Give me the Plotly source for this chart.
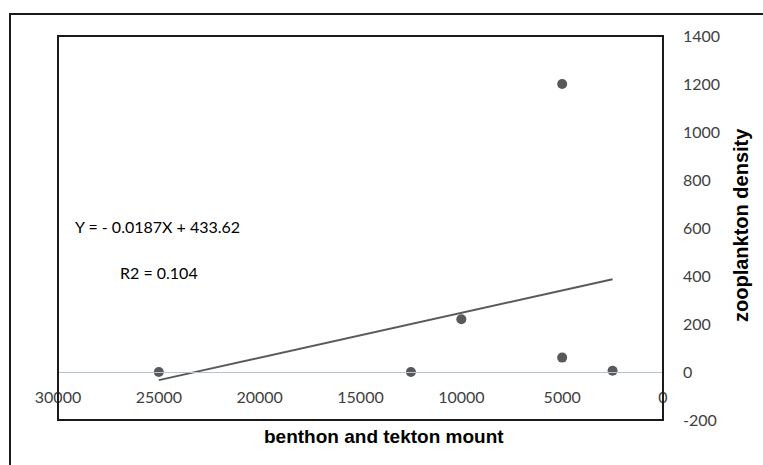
import plotly.graph_objects as go

# Data
x_vals = [25000, 12500, 10000, 5000, 5000, 2500]
y_vals = [0, 0, 220, 1200, 60, 5]
slope = -0.0187
intercept = 433.62
trend_x = [25000, 2500]
trend_y = [slope * v + intercept for v in trend_x]
x_ticks = [30000, 25000, 20000, 15000, 10000, 5000, 0]
y_ticks = [-200, 0, 200, 400, 600, 800, 1000, 1200, 1400]
eq_text = "Y = - 0.0187X + 433.62"
r2_text = "R2 = 0.104"
x_title = "benthon and tekton mount"
y_title = "zooplankton density"

W, H = 763, 465
L, R, T, B = 58, 100, 36, 45
pw, ph = W - L - R, H - T - B
ymin, ymax = -200, 1400
zero_pos = (0 - ymin) / (ymax - ymin)

tick_font = dict(family="Lato, sans-serif", size=16, color="#404040")

fig = go.Figure()
fig.add_trace(go.Scatter(x=trend_x, y=trend_y, mode="lines",
                         line=dict(color="#595959", width=2), showlegend=False))
fig.add_trace(go.Scatter(x=x_vals, y=y_vals, mode="markers",
                         marker=dict(color="#595959", size=10), showlegend=False))

fig.update_layout(
    width=W, height=H,
    margin=dict(l=L, r=R, t=T, b=B),
    paper_bgcolor="white", plot_bgcolor="white",
    xaxis=dict(range=[30000, 0], tickvals=x_ticks, ticktext=[str(v) for v in x_ticks],
               showgrid=False, zeroline=False, showline=True, linecolor="#b4c3d6", linewidth=1,
               anchor="free", position=zero_pos, ticks="", tickfont=tick_font, ticklabelstandoff=11),
    yaxis=dict(range=[ymin, ymax], tickvals=y_ticks, ticktext=[str(v) for v in y_ticks],
               side="right", showgrid=False,
               zeroline=False, showline=False, ticks="", tickfont=tick_font,
               ticklabelstandoff=19),
    font=dict(family="Lato, sans-serif"),
)

# plot box border
fig.add_shape(type="rect", xref="paper", yref="paper", x0=0, y0=0, x1=1, y1=1,
              line=dict(color="#1a1a1a", width=2), layer="above")
# outer chart border (extends beyond the visible window at right and bottom)
ox0 = (10 - L) / pw
oy1 = 1 + (T - 14) / ph
fig.add_shape(type="rect", xref="paper", yref="paper", x0=ox0, y0=-0.5, x1=1.5, y1=oy1,
              line=dict(color="#1a1a1a", width=2), layer="above")

fig.add_annotation(xref="paper", yref="paper", x=(73 - L) / pw, y=1 - (227 - T) / ph,
                   text=eq_text, showarrow=False, xanchor="left", yanchor="middle",
                   font=dict(family="Lato, sans-serif", size=16, color="#000000"))
fig.add_annotation(xref="paper", yref="paper", x=(118 - L) / pw, y=1 - (272 - T) / ph,
                   text=r2_text, showarrow=False, xanchor="left", yanchor="middle",
                   font=dict(family="Lato, sans-serif", size=16, color="#000000"))
fig.add_annotation(xref="paper", yref="paper", x=(384 - L) / pw, y=1 - (436 - T) / ph,
                   text="<b>" + x_title + "</b>", showarrow=False, xanchor="center", yanchor="middle",
                   font=dict(family="Liberation Sans, Arial, sans-serif", size=19, color="#000000"))
fig.add_annotation(xref="paper", yref="paper", x=(741 - L) / pw, y=1 - (225 - T) / ph,
                   text="<b>" + y_title + "</b>", showarrow=False, textangle=-90,
                   xanchor="center", yanchor="middle",
                   font=dict(family="Liberation Sans, Arial, sans-serif", size=20, color="#000000"))

fig.write_html("out.html")
